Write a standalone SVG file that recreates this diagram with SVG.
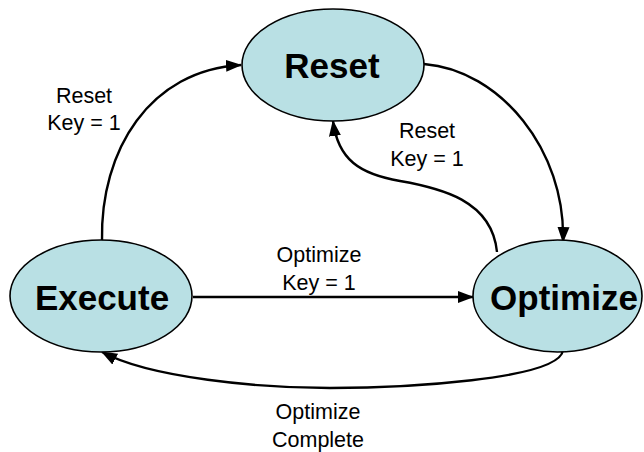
<svg xmlns="http://www.w3.org/2000/svg" width="644" height="452" viewBox="0 0 644 452">
  <style>
    .state ellipse { fill: #b9e0e4; stroke: #000; stroke-width: 1.6; }
    .state text { font-family: "Liberation Sans", Arial, sans-serif; font-weight: bold; font-size: 35px; text-anchor: middle; fill: #000; }
    .edge { fill: none; stroke: #000; stroke-width: 2.4; marker-end: url(#arrow); }
    .label { font-family: "Liberation Sans", Arial, sans-serif; font-size: 21.5px; text-anchor: middle; fill: #000; }
  </style>
  <defs>
    <marker id="arrow" markerUnits="userSpaceOnUse" markerWidth="16" markerHeight="14" viewBox="0 0 16 14" refX="15" refY="7" orient="auto">
      <path d="M0,1 L16,7 L0,13 Z" fill="#000"/>
    </marker>
  </defs>
  <rect width="644" height="452" fill="#fff"/>

  <g id="connectors">
    <path class="edge" d="M102,241 C100,150 150,70 241,65"/>
    <path class="edge" d="M424,64 C500,70 566,150 563,242"/>
    <path class="edge" d="M497,252 C492,200 440,188 400,181 C360,174 338,160 333,121"/>
    <path class="edge" d="M193,297 L473,297"/>
    <path class="edge" d="M563,350 C560,380 400,388 330,388 C260,388 150,378 102,352"/>
  </g>

  <g id="reset" class="state">
    <ellipse cx="333" cy="65" rx="91" ry="56"/>
    <text x="332" y="78">Reset</text>
  </g>
  <g id="execute" class="state">
    <ellipse cx="101" cy="296" rx="91" ry="56"/>
    <text x="102" y="310">Execute</text>
  </g>
  <g id="optimize" class="state">
    <ellipse cx="557.5" cy="296" rx="84.5" ry="56"/>
    <text x="564" y="310">Optimize</text>
  </g>

  <g id="labels">
    <text class="label" x="84" y="103">Reset</text>
    <text class="label" x="84" y="130">Key = 1</text>
    <text class="label" x="427" y="138">Reset</text>
    <text class="label" x="427" y="166">Key = 1</text>
    <text class="label" x="319" y="262">Optimize</text>
    <text class="label" x="319" y="290">Key = 1</text>
    <text class="label" x="318" y="419">Optimize</text>
    <text class="label" x="318" y="447">Complete</text>
  </g>
</svg>
